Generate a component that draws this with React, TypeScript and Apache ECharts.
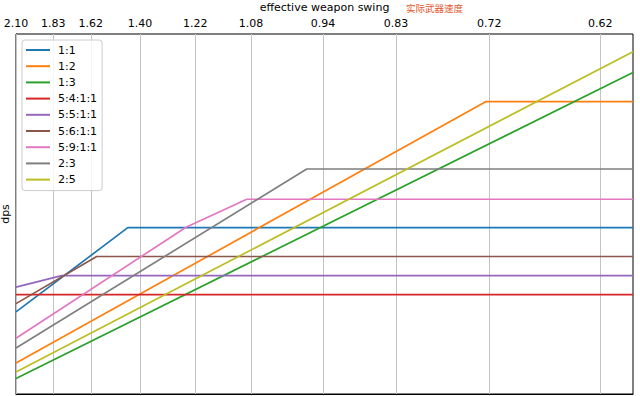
import React, { useEffect, useRef } from 'react';
import * as echarts from 'echarts';

// x: effective speed bonus (arbitrary linear units), tick labels are the resulting weapon swing
const xMin = 0;
const xMax = 250;
const tickPositions = [0, 15.1, 30.3, 50.2, 72.6, 95.2, 124.4, 154, 191.8, 236.7];
const tickLabels = ['2.10', '1.83', '1.62', '1.40', '1.22', '1.08', '0.94', '0.83', '0.72', '0.62'];

const seriesNames = ['1:1', '1:2', '1:3', '5:4:1:1', '5:5:1:1', '5:6:1:1', '5:9:1:1', '2:3', '2:5'];
const seriesColors = ['#1f77b4', '#ff7f0e', '#2ca02c', '#d62728', '#9467bd', '#8c564b', '#e377c2', '#7f7f7f', '#bcbd22'];

// dps (relative units) at the breakpoints of each piecewise-linear curve
const d11 = [[0, 22.8], [45.3, 46.2], [250, 46.2]];
const d12 = [[0, 8.6], [190.3, 81.2], [250, 81.2]];
const d13 = [[0, 4.3], [250, 89.3]];
const d5411 = [[0, 27.6], [250, 27.6]];
const d5511 = [[0, 29.7], [18.5, 32.9], [250, 32.9]];
const d5611 = [[0, 25.1], [32.7, 38.2], [250, 38.2]];
const d5911 = [[0, 15.5], [68.9, 46.3], [93.5, 54.1], [250, 54.1]];
const d23 = [[0, 12.8], [117.8, 62.5], [250, 62.5]];
const d25 = [[0, 6.1], [250, 95.1]];

const seriesData = [d11, d12, d13, d5411, d5511, d5611, d5911, d23, d25];

const FONT = 'DejaVu Sans';

export default function App() {
  const ref = useRef<HTMLDivElement>(null);

  useEffect(() => {
    if (!ref.current) return;
    const chart = echarts.init(ref.current, undefined, { renderer: 'svg' });

    const series: any[] = seriesNames.map((name, i) => ({
      name,
      type: 'line',
      data: seriesData[i],
      showSymbol: false,
      symbol: 'none',
      lineStyle: { width: 1.7, color: seriesColors[i] },
      itemStyle: { color: seriesColors[i] },
      z: 3,
    }));

    series[0].markLine = {
      silent: true,
      symbol: ['none', 'none'],
      z: 1,
      label: { show: false },
      lineStyle: { color: '#c4c4c4', width: 1, type: 'solid' },
      emphasis: { disabled: true },
      data: tickPositions.map((v) => ({ xAxis: v })),
    };

    chart.setOption({
      animation: false,
      backgroundColor: '#ffffff',
      grid: {
        left: 16,
        right: 7,
        top: 34,
        bottom: 2,
        outerBoundsMode: 'none',
        containLabel: false,
        show: true,
        borderColor: '#000000',
        borderWidth: 1,
        backgroundColor: 'transparent',
      },
      legend: {
        orient: 'vertical',
        left: 22,
        top: 40,
        data: seriesNames,
        icon: 'rect',
        itemWidth: 24,
        itemHeight: 2,
        itemGap: 4.2,
        padding: [4, 5, 5, 4],
        backgroundColor: 'rgba(255,255,255,0.85)',
        borderColor: '#cccccc',
        borderWidth: 1,
        borderRadius: 3,
        selectedMode: false,
        formatter: (name: string) => `{t|${name}}`,
        textStyle: {
          fontFamily: FONT,
          fontSize: 11,
          color: '#000000',
          lineHeight: 12,
          rich: {
            t: {
              fontFamily: FONT,
              fontSize: 11,
              color: '#000000',
              lineHeight: 12,
              padding: [0, 0, 0, 3],
            },
          },
        },
      },
      xAxis: {
        type: 'value',
        position: 'top',
        min: xMin,
        max: xMax,
        name: 'effective weapon swing',
        nameLocation: 'middle',
        nameGap: 18,
        nameTextStyle: { fontFamily: FONT, fontSize: 11, color: '#000000' },
        axisLine: { show: true, lineStyle: { color: '#000000', width: 1 } },
        axisTick: {
          show: true,
          inside: false,
          length: 4,
          customValues: tickPositions,
          lineStyle: { color: '#000000', width: 1 },
        },
        axisLabel: {
          show: true,
          margin: 5.5,
          customValues: tickPositions,
          hideOverlap: false,
          fontFamily: FONT,
          fontSize: 11,
          color: '#000000',
          formatter: (v: number) => {
            const idx = tickPositions.findIndex((p) => Math.abs(p - v) < 1e-6);
            return idx >= 0 ? tickLabels[idx] : '';
          },
        },
        splitLine: { show: false },
      },
      yAxis: {
        type: 'value',
        min: 0,
        max: 100,
        name: 'dps',
        nameLocation: 'middle',
        nameRotate: 90,
        nameGap: 5,
        nameTextStyle: { fontFamily: FONT, fontSize: 11, color: '#000000' },
        axisLine: { show: true, lineStyle: { color: '#000000', width: 1 } },
        axisTick: { show: false },
        axisLabel: { show: false },
        splitLine: { show: false },
      },
      graphic: [
        {
          type: 'text',
          left: 406,
          top: 3.5,
          silent: true,
          style: {
            text: '实际武器速度',
            fill: '#e4572e',
            font: '9.5px "Noto Sans CJK SC"',
          },
        },
      ],
      series,
    });

    return () => {
      chart.dispose();
    };
  }, []);

  return (
    <div
      ref={ref}
      style={{ position: 'absolute', left: 0, top: 0, width: 640, height: 396 }}
    />
  );
}
